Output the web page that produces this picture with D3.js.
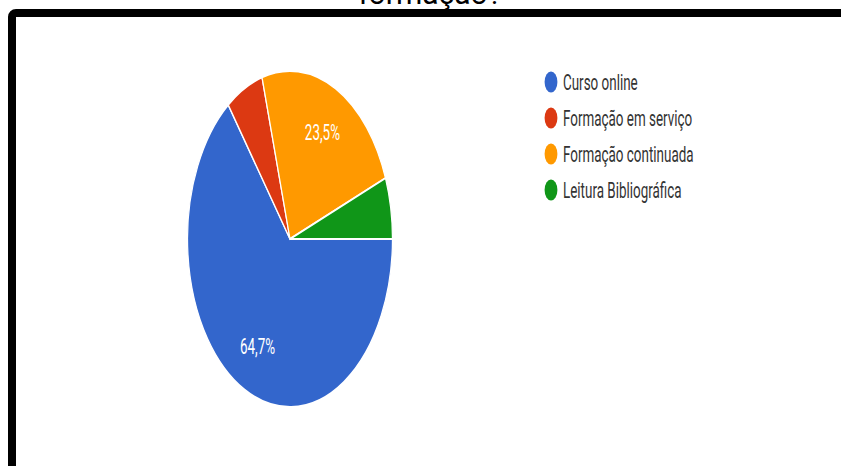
<!DOCTYPE html>
<html>
<head>
<meta charset="utf-8">
<script src="https://cdn.jsdelivr.net/npm/d3@7"></script>
<style>
  html, body { margin: 0; padding: 0; background: #fff; }
  svg { display: block; }
</style>
</head>
<body>
<svg id="chart" width="841" height="466"></svg>
<script>
// Responses to the question, as percentages of respondents
const categories = ["Curso online", "Formação em serviço", "Formação continuada", "Leitura Bibliográfica"];
const shares = [64.7, 5.9, 23.5, 5.9];
const colors = ["#3366cc", "#dc3912", "#ff9900", "#109618"];
const titleText = "formação?";

const W = 841, H = 466;
const svg = d3.select("#chart");

// Card frame
svg.append("rect")
  .attr("x", 12).attr("y", 13)
  .attr("width", W + 20).attr("height", H + 20)
  .attr("rx", 4)
  .attr("fill", "#fff")
  .attr("stroke", "#000")
  .attr("stroke-width", 8);

// Question title (partly above the frame)
svg.append("text")
  .attr("x", 430).attr("y", 3.5)
  .attr("text-anchor", "middle")
  .attr("font-family", "Roboto, Arial, sans-serif")
  .attr("font-size", 30)
  .attr("fill", "#000")
  .text(titleText);

// The chart is drawn horizontally compressed
const sx = 0.61;
const g = svg.append("g").attr("transform", `scale(${sx},1)`);

const cx = 290 / sx, cy = 239, r = 168;

const pie = d3.pie().sort(null)
  .startAngle(Math.PI / 2)
  .endAngle(Math.PI / 2 + 2 * Math.PI)
  .value(d => d.value);

const data = categories.map((c, i) => ({ name: c, value: shares[i], color: colors[i] }));
const arcs = pie(data);

const arc = d3.arc().innerRadius(0).outerRadius(r);
const labelArc = d3.arc().innerRadius(r * 0.71).outerRadius(r * 0.71);

const pg = g.append("g").attr("transform", `translate(${cx},${cy})`);

pg.selectAll("path.slice")
  .data(arcs)
  .join("path")
  .attr("class", "slice")
  .attr("d", arc)
  .attr("fill", d => d.data.color)
  .attr("stroke", "#fff")
  .attr("stroke-width", 2);

const fmt = v => v.toFixed(1).replace(".", ",") + "%";

pg.selectAll("text.pct")
  .data(arcs.filter(d => d.data.value >= 10))
  .join("text")
  .attr("class", "pct")
  .attr("transform", d => `translate(${labelArc.centroid(d)})`)
  .attr("text-anchor", "middle")
  .attr("dy", "0.36em")
  .attr("font-family", "Roboto, Arial, sans-serif")
  .attr("font-size", 22)
  .attr("fill", "#fff")
  .text(d => fmt(d.data.value));

// Legend
const legendX = 551 / sx, legendY0 = 82, legendStep = 36;
const lg = g.append("g");
const items = lg.selectAll("g.item")
  .data(data)
  .join("g")
  .attr("class", "item")
  .attr("transform", (d, i) => `translate(${legendX},${legendY0 + i * legendStep})`);

items.append("circle")
  .attr("r", 10.5)
  .attr("fill", d => d.color);

items.append("text")
  .attr("x", (563 - 551) / sx)
  .attr("dy", "0.36em")
  .attr("font-family", "Roboto, Arial, sans-serif")
  .attr("font-size", 22)
  .attr("fill", "#333")
  .text(d => d.name);
</script>
</body>
</html>
